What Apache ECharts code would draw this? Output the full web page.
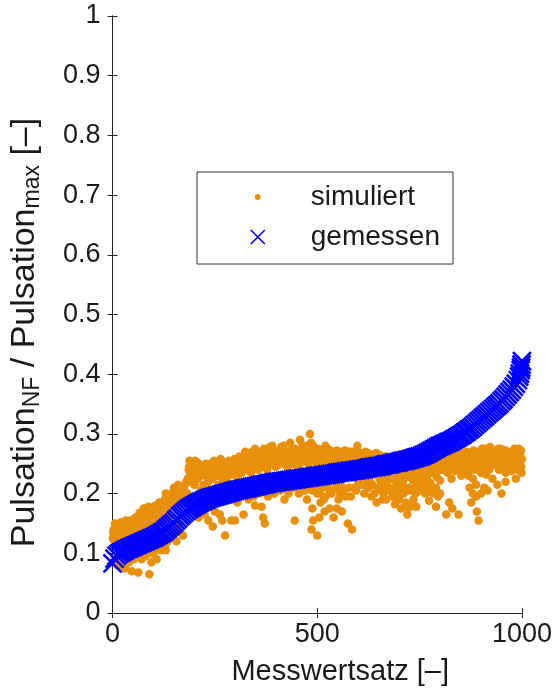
<!DOCTYPE html>
<html>
<head>
<meta charset="utf-8">
<script src="https://cdn.jsdelivr.net/npm/echarts@6/dist/echarts.min.js"></script>
<style>html,body{margin:0;padding:0;background:#fff}#c{width:555px;height:692px}</style>
</head>
<body>
<div id="c"></div>
<script>
// ---- data ----
const xTicks = [0, 500, 1000];
const yTicks = [0, 0.1, 0.2, 0.3, 0.4, 0.5, 0.6, 0.7, 0.8, 0.9, 1];
const seriesNames = ['simuliert', 'gemessen'];

// gemessen (sorted measurements): [index, value] read along the blue band
const gemessen = [
[0,0.083],[5,0.091],[10,0.096],[15,0.099],[20,0.101],[25,0.103],[30,0.105],[35,0.107],[40,0.108],[45,0.110],[50,0.111],[55,0.113],[60,0.114],[65,0.116],[70,0.117],[75,0.119],[80,0.120],[85,0.122],[90,0.123],[95,0.125],
[100,0.126],[105,0.128],[110,0.130],[115,0.132],[120,0.134],[125,0.136],[130,0.139],[135,0.142],[140,0.145],[145,0.148],[150,0.151],[155,0.155],[160,0.158],[165,0.162],[170,0.165],[175,0.168],[180,0.171],[185,0.174],[190,0.176],[195,0.178],
[200,0.180],[205,0.182],[210,0.184],[215,0.186],[220,0.187],[225,0.189],[230,0.190],[235,0.192],[240,0.193],[245,0.194],[250,0.195],[255,0.196],[260,0.197],[265,0.198],[270,0.199],[275,0.200],[280,0.201],[285,0.202],[290,0.203],[295,0.204],
[300,0.205],[305,0.206],[310,0.206],[315,0.207],[320,0.208],[325,0.209],[330,0.209],[335,0.210],[340,0.211],[345,0.212],[350,0.212],[355,0.213],[360,0.214],[365,0.215],[370,0.215],[375,0.216],[380,0.217],[385,0.218],[390,0.218],[395,0.219],
[400,0.219],[405,0.220],[410,0.220],[415,0.221],[420,0.221],[425,0.222],[430,0.222],[435,0.223],[440,0.223],[445,0.224],[450,0.224],[455,0.225],[460,0.225],[465,0.226],[470,0.226],[475,0.227],[480,0.227],[485,0.228],[490,0.228],[495,0.229],
[500,0.229],[505,0.230],[510,0.230],[515,0.231],[520,0.231],[525,0.232],[530,0.232],[535,0.233],[540,0.233],[545,0.234],[550,0.235],[555,0.235],[560,0.236],[565,0.236],[570,0.237],[575,0.237],[580,0.238],[585,0.238],[590,0.239],[595,0.239],
[600,0.240],[605,0.240],[610,0.241],[615,0.241],[620,0.242],[625,0.243],[630,0.244],[635,0.244],[640,0.245],[645,0.245],[650,0.246],[655,0.246],[660,0.247],[665,0.248],[670,0.249],[675,0.249],[680,0.250],[685,0.251],[690,0.252],[695,0.252],
[700,0.253],[705,0.254],[710,0.255],[715,0.255],[720,0.256],[725,0.257],[730,0.258],[735,0.259],[740,0.260],[745,0.261],[750,0.262],[755,0.263],[760,0.265],[765,0.266],[770,0.268],[775,0.270],[780,0.272],[785,0.274],[790,0.276],[795,0.278],
[800,0.280],[805,0.281],[810,0.283],[815,0.284],[820,0.286],[825,0.287],[830,0.289],[835,0.291],[840,0.293],[845,0.295],[850,0.297],[855,0.299],[860,0.302],[865,0.304],[870,0.307],[875,0.309],[880,0.312],[885,0.315],[890,0.318],[895,0.321],
[900,0.324],[905,0.327],[910,0.330],[915,0.333],[920,0.336],[925,0.339],[930,0.342],[935,0.345],[940,0.348],[945,0.351],[950,0.355],[955,0.358],[960,0.362],[965,0.366],[970,0.370],[975,0.374],[980,0.379],[985,0.384],[990,0.390],[993,0.396],
[995,0.401],[997,0.407],[998,0.411],[999,0.416],[1000,0.422]
];

// simuliert: [index, value], first reading pass
const simuliertA = [
[2,0.135],[5,0.12],[8,0.145],[10,0.13],[12,0.115],[15,0.14],[18,0.125],[20,0.145],[22,0.11],[25,0.135],[28,0.15],[30,0.12],[33,0.14],[36,0.13],[38,0.145],[40,0.118],[43,0.155],[46,0.135],[48,0.125],[50,0.142],
[12,0.08],[25,0.075],[31,0.075],[40,0.085],[47,0.07],[52,0.09],[60,0.095],[63,0.068],[71,0.09],[80,0.095],[90,0.065],[92,0.105],[96,0.1],[110,0.108],[120,0.11],
[53,0.15],[56,0.16],[58,0.14],[62,0.13],[66,0.168],[70,0.15],[73,0.14],[76,0.175],[80,0.16],[84,0.145],[88,0.178],[92,0.155],[96,0.17],[100,0.178],[104,0.16],[108,0.15],[112,0.172],[116,0.165],[120,0.155],[124,0.185],[128,0.19],[132,0.17],[136,0.16],[140,0.18],
[100,0.1],[112,0.11],[118,0.105],[128,0.112],[135,0.12],[140,0.13],[150,0.135],[156,0.12],[165,0.14],[172,0.13],[160,0.15],
[145,0.2],[150,0.21],[155,0.195],[160,0.215],[165,0.2],[170,0.19],[175,0.205],[180,0.22],[183,0.2],[178,0.185],[162,0.185],
[188,0.255],[192,0.24],[195,0.25],[198,0.232],[202,0.255],[205,0.245],[208,0.225],[210,0.25],[213,0.238],[216,0.23],[220,0.245],[222,0.215],[225,0.235],[228,0.25],[231,0.228],[234,0.22],[238,0.24],[200,0.215],[190,0.22],[215,0.205],[230,0.21],
[210,0.16],[225,0.165],[234,0.155],[245,0.145],[250,0.17],[268,0.155],[275,0.13],[290,0.155],[299,0.155],[262,0.165],
[242,0.24],[245,0.225],[250,0.245],[255,0.23],[258,0.215],[262,0.25],[266,0.24],[270,0.225],[274,0.235],[278,0.245],[282,0.218],[286,0.24],[290,0.25],[294,0.232],[298,0.258],[302,0.245],[306,0.225],[310,0.262],[314,0.24],[318,0.25],
[322,0.26],[326,0.245],[330,0.265],[334,0.25],[338,0.235],[342,0.27],[346,0.255],[350,0.242],[354,0.265],[358,0.25],[362,0.26],[366,0.245],[370,0.275],[374,0.255],[378,0.24],[382,0.265],[386,0.25],[390,0.28],[394,0.26],[398,0.245],
[320,0.165],[332,0.19],[348,0.18],[364,0.178],[368,0.16],[372,0.15],[380,0.195],[395,0.2],[340,0.205],[355,0.21],
[402,0.26],[406,0.272],[410,0.25],[414,0.265],[418,0.28],[422,0.255],[426,0.245],[430,0.27],[434,0.285],[438,0.26],[442,0.25],[446,0.275],[450,0.265],[454,0.245],[458,0.29],[462,0.27],[466,0.255],[470,0.28],[474,0.262],[478,0.25],[482,0.3],[486,0.27],
[430,0.2],[445,0.155],[462,0.21],[475,0.19],[490,0.155],[480,0.208],
[490,0.28],[494,0.265],[498,0.25],[502,0.275],[506,0.26],[510,0.27],[514,0.255],[518,0.265],[522,0.25],[526,0.275],[530,0.26],[534,0.245],[538,0.27],[542,0.255],[546,0.265],[550,0.25],[554,0.268],[558,0.245],[562,0.26],[566,0.25],[485,0.285],[520,0.28],
[488,0.205],[500,0.2],[508,0.185],[516,0.19],[488,0.175],[486,0.14],[540,0.16],[548,0.175],[556,0.2],[575,0.15],[585,0.14],[590,0.21],[570,0.195],[530,0.205],
[570,0.265],[574,0.255],[578,0.27],[582,0.25],[586,0.262],[590,0.245],[594,0.258],[598,0.28],[602,0.26],[606,0.25],[610,0.265],[614,0.255],[618,0.27],[622,0.248],[626,0.26],[630,0.255],[634,0.265],[638,0.25],[642,0.26],[646,0.257],
[600,0.22],[612,0.215],[620,0.225],[629,0.22],[645,0.185],[660,0.19],[655,0.225],[640,0.2],
[652,0.265],[660,0.26],[668,0.262],[676,0.26],[684,0.258],[692,0.26],[700,0.265],[708,0.262],[716,0.26],[724,0.27],
[650,0.23],[656,0.22],[662,0.235],[668,0.215],[674,0.238],[680,0.225],[686,0.21],[692,0.23],[698,0.218],[704,0.235],[710,0.222],[716,0.24],[722,0.21],[728,0.228],[662,0.222],[678,0.235],[694,0.24],[690,0.2],[700,0.195],[694,0.215],
[662,0.2],[678,0.208],[694,0.2],[700,0.19],[711,0.2],[716,0.185],[720,0.178],[727,0.178],[735,0.19],[742,0.178],[740,0.2],[705,0.175],[690,0.182],[720,0.165],[668,0.19],
[727,0.255],[732,0.24],[738,0.25],[744,0.232],[750,0.245],[756,0.238],[762,0.25],[768,0.225],[774,0.242],[780,0.235],[786,0.248],[792,0.228],[798,0.24],[804,0.25],[760,0.215],[776,0.218],[790,0.21],[800,0.222],[770,0.205],[783,0.2],[795,0.195],
[773,0.188],[790,0.178],[800,0.2],[815,0.165],[822,0.185],[830,0.175],[845,0.165],
[810,0.26],[815,0.25],[820,0.265],[825,0.245],[830,0.27],[835,0.255],[840,0.25],[845,0.26],[850,0.245],[855,0.265],[860,0.255],[865,0.27],[870,0.25],[875,0.26],[880,0.245],[885,0.265],[890,0.255],[818,0.235],[836,0.238],[852,0.23],[866,0.24],[880,0.225],[888,0.215],
[872,0.21],[880,0.2],[888,0.195],[890,0.17],[894,0.155],[876,0.185],
[894,0.27],[898,0.26],[902,0.275],[906,0.265],[910,0.255],[914,0.27],[918,0.26],[922,0.278],[926,0.265],[930,0.255],[934,0.27],[938,0.262],[942,0.275],[946,0.255],[950,0.268],[954,0.26],[958,0.272],[962,0.258],[966,0.265],[970,0.25],[974,0.27],[978,0.26],[982,0.275],[986,0.255],[990,0.268],[994,0.26],[998,0.272],
[905,0.245],[920,0.24],[935,0.248],[950,0.245],[965,0.24],[980,0.245],[995,0.25],[912,0.232],[928,0.225],[944,0.24],[960,0.235],[975,0.238],[990,0.24],[900,0.235],[940,0.215],[950,0.2],[960,0.22],[985,0.225],[998,0.245],
[908,0.21],[916,0.205],[900,0.2]
];
// simuliert: second reading pass (denser clusters)
const simuliertB = [
[1,0.125],[3,0.14],[6,0.15],[9,0.128],[14,0.148],[17,0.132],[21,0.152],[24,0.128],[27,0.142],[32,0.155],[35,0.125],[39,0.135],[42,0.148],[45,0.128],[49,0.152],[55,0.145],[59,0.155],[64,0.148],[68,0.158],[72,0.165],[78,0.152],[82,0.17],[86,0.162],[94,0.165],[98,0.16],[102,0.168],[106,0.18],[110,0.162],[114,0.185],[118,0.175],[122,0.168],[126,0.178],[130,0.2],[134,0.185],[138,0.195],[142,0.19],[146,0.185],[152,0.2],[158,0.205],[168,0.21],[172,0.2],[176,0.215],[186,0.24],[184,0.225],
[5,0.09],[18,0.085],[35,0.09],[55,0.095],[75,0.105],[85,0.11],[105,0.115],[125,0.125],[145,0.13],[130,0.105],[108,0.09],[95,0.085],
[187,0.245],[189,0.23],[193,0.25],[196,0.24],[199,0.245],[201,0.228],[204,0.238],[207,0.252],[211,0.23],[214,0.245],[218,0.24],[221,0.232],[224,0.248],[227,0.24],[232,0.245],[236,0.232],[240,0.25],[244,0.235],[248,0.255],[252,0.238],[256,0.245],[260,0.232],[264,0.258],[268,0.245],[272,0.252],[276,0.228],[280,0.24],[284,0.255],[288,0.232],[292,0.245],[296,0.24],[300,0.25],[304,0.235],[308,0.255],[312,0.248],[316,0.235],
[320,0.255],[324,0.27],[328,0.24],[332,0.258],[336,0.268],[340,0.245],[344,0.26],[348,0.275],[352,0.255],[356,0.24],[360,0.27],[364,0.258],[368,0.265],[372,0.248],[376,0.268],[380,0.255],[384,0.278],[388,0.262],[392,0.25],[396,0.27],[400,0.258],[404,0.248],[408,0.265],[412,0.278],[416,0.26],[420,0.27],[424,0.262],[428,0.258],[432,0.248],[436,0.272],[440,0.265],[444,0.258],[448,0.248],[452,0.27],[456,0.26],[460,0.252],[464,0.28],[468,0.265],[472,0.272],[476,0.258],[480,0.268],[484,0.255],[488,0.262],
[305,0.185],[312,0.195],[328,0.2],[345,0.195],[360,0.2],[385,0.21],[410,0.205],[420,0.19],[440,0.21],[455,0.2],[470,0.205],[310,0.2],[290,0.19],[280,0.195],
[492,0.27],[496,0.258],[500,0.265],[504,0.25],[508,0.268],[512,0.26],[516,0.275],[520,0.262],[524,0.255],[528,0.268],[532,0.272],[536,0.258],[540,0.265],[544,0.248],[548,0.272],[552,0.262],[556,0.255],[560,0.27],[564,0.26],[568,0.272],[572,0.258],[576,0.262],[580,0.255],[584,0.27],[588,0.26],[592,0.265],[596,0.252],[600,0.27],[604,0.262],[608,0.258],[612,0.268],[616,0.262],[620,0.255],[624,0.268],[628,0.262],[632,0.25],[636,0.258],[640,0.265],[644,0.268],[648,0.26],
[495,0.21],[505,0.2],[512,0.21],[520,0.195],[525,0.215],[535,0.2],[545,0.21],[552,0.19],[560,0.212],[565,0.2],[578,0.21],[582,0.195],[595,0.205],[605,0.215],[615,0.2],[625,0.21],[635,0.215],[632,0.195],[648,0.21],[518,0.17],[505,0.16],[530,0.175],[560,0.17],[500,0.13],
[652,0.225],[658,0.232],[664,0.228],[670,0.22],[676,0.23],[682,0.235],[688,0.225],[696,0.232],[702,0.225],[706,0.215],[712,0.235],[718,0.228],[724,0.238],[730,0.232],[736,0.242],[742,0.235],[748,0.24],[754,0.228],[760,0.245],[766,0.238],[772,0.25],[778,0.245],[784,0.238],[788,0.255],[794,0.25],[798,0.255],[802,0.245],[806,0.24],[812,0.255],[658,0.205],[672,0.205],[684,0.195],[698,0.205],[714,0.21],[726,0.205],[738,0.21],[750,0.205],[764,0.2],[778,0.21],[752,0.225],[734,0.222],[744,0.218],
[822,0.258],[826,0.268],[832,0.248],[838,0.262],[842,0.27],[848,0.255],[854,0.25],[858,0.268],[862,0.26],[868,0.255],[872,0.268],[878,0.262],[882,0.272],[886,0.258],[892,0.262],[896,0.25],[900,0.268],[904,0.258],[908,0.275],[912,0.262],[916,0.25],[920,0.268],[924,0.258],[928,0.272],[932,0.262],[936,0.25],[940,0.268],[944,0.262],[948,0.275],[952,0.25],[956,0.262],[960,0.272],[964,0.255],[968,0.268],[972,0.26],[976,0.252],[980,0.27],[984,0.262],[988,0.25],[992,0.275],[996,0.262],[1000,0.258],[828,0.225],[844,0.24],[860,0.235],[870,0.23],[884,0.24],[896,0.24],[910,0.245],[925,0.25],[942,0.245],[956,0.24],[970,0.24],[986,0.245],[999,0.235]
];

// ---- chart ----
const FONT = 'Liberation Sans';
const TXT = '#1a1a1a';
const chart = echarts.init(document.getElementById('c'), null, {renderer: 'canvas'});
const crossPath = 'path://M0,0L10,10M10,0L0,10';
const dotIcon = 'path://M0,0M12,12M6,3.5A2.5,2.5,0,1,1,5.99,3.5Z';
const fmtY = v => { const r = Math.round(v * 10) / 10; return yTicks.indexOf(r) >= 0 ? String(r) : ''; };
const fmtX = v => String(Math.round(v));
const axisCommon = {
  axisLine: {show: true, lineStyle: {color: '#222', width: 1}},
  axisTick: {show: true, inside: true, length: 5, lineStyle: {color: '#222', width: 1}},
  splitLine: {show: false}
};
chart.setOption({
  animation: false,
  backgroundColor: '#fff',
  textStyle: {fontFamily: FONT, color: TXT},
  grid: {left: 112, top: 16, width: 410, height: 597, containLabel: false},
  legend: {
    left: 197, top: 172,
    orient: 'vertical',
    padding: [11, 13, 13, 53],
    itemGap: 12,
    itemWidth: 14, itemHeight: 14,
    borderColor: '#333', borderWidth: 1,
    backgroundColor: '#fff',
    textStyle: {fontFamily: FONT, fontSize: 28, color: TXT, padding: [0, 0, 0, 41]},
    data: [
      {name: seriesNames[0], icon: dotIcon},
      {name: seriesNames[1], icon: crossPath, itemStyle: {borderWidth: 1.6}}
    ]
  },
  xAxis: [
    Object.assign({type: 'value', min: xTicks[0], max: xTicks[xTicks.length - 1], interval: 500, position: 'bottom',
      name: 'Messwertsatz [–]', nameLocation: 'middle', nameGap: 44,
      nameTextStyle: {fontFamily: FONT, fontSize: 29, color: TXT, padding: [0, 0, 0, 46]},
      axisLabel: {fontFamily: FONT, fontSize: 27, color: TXT, margin: 8, formatter: fmtX}}, axisCommon),
    Object.assign({type: 'value', min: xTicks[0], max: xTicks[xTicks.length - 1], interval: 500, position: 'top',
      axisLabel: {show: false}}, axisCommon)
  ],
  yAxis: [
    Object.assign({type: 'value', min: yTicks[0], max: yTicks[yTicks.length - 1], interval: 0.1, position: 'left',
      name: '{m|Pulsation}{s|NF}{m| / Pulsation}{s|max}{m| [–]}', nameLocation: 'middle', nameGap: 68,
      nameTextStyle: {fontFamily: FONT, fontSize: 34, color: TXT, padding: [0, 36, 0, 0],
        rich: {m: {fontFamily: FONT, fontSize: 34, color: TXT}, s: {fontFamily: FONT, fontSize: 23, color: TXT, padding: [16, 0, 0, 0]}}},
      axisLabel: {fontFamily: FONT, fontSize: 27, color: TXT, margin: 12, formatter: fmtY}}, axisCommon),
    Object.assign({type: 'value', min: yTicks[0], max: yTicks[yTicks.length - 1], interval: 0.1, position: 'right',
      axisLabel: {show: false}}, axisCommon)
  ],
  series: [
    {
      name: seriesNames[0], type: 'scatter', xAxisIndex: 0, yAxisIndex: 0,
      symbol: 'circle', symbolSize: 8.5,
      itemStyle: {color: '#e8900c', opacity: 1},
      data: simuliertA.concat(simuliertB),
      z: 2
    },
    {
      name: seriesNames[1], type: 'scatter', xAxisIndex: 0, yAxisIndex: 0,
      symbol: crossPath, symbolSize: 18,
      itemStyle: {color: '#0000ff', borderColor: '#0000ff', borderWidth: 2.6, opacity: 1},
      data: gemessen,
      z: 3
    }
  ]
});
</script>
</body>
</html>
